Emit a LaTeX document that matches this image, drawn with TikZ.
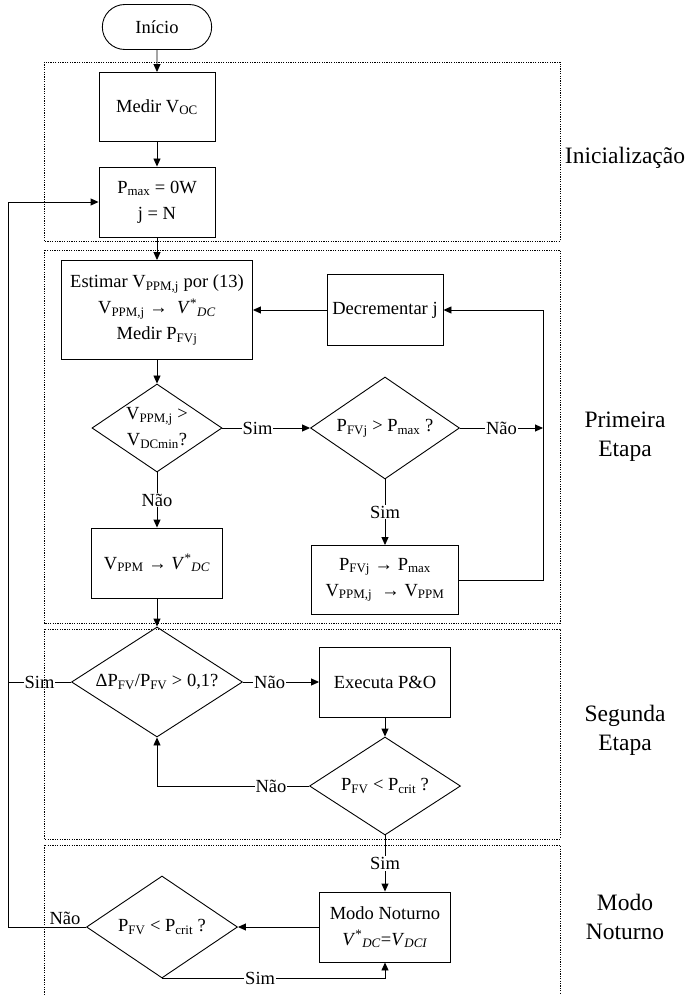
\documentclass[tikz,border=0pt]{standalone}
\usepackage{fontspec}
\setmainfont{Liberation Serif}
\usetikzlibrary{shapes.misc, shapes.geometric, arrows.meta}

\tikzset{
	bloco/.style={draw, line width=0.9pt, align=center, minimum width=131pt, minimum height=70pt},
	decisao/.style={draw, line width=0.9pt, diamond, aspect=1.5, inner sep=0pt, align=center},
	seta/.style={line width=0.9pt, -{Triangle[length=8pt,width=7pt]}},
	linha/.style={line width=0.9pt},
	rotulo/.style={fill=white, inner sep=1pt},
	etapa/.style={line width=0.8pt, dash pattern=on 1.2pt off 1.2pt},
	titulo/.style={font=\fontsize{23.5}{29}\selectfont, align=center}
}
\newcommand{\vdc}{\textit{V}\textsuperscript{*}\textsubscript{\textit{DC}}}

\begin{document}
\begin{tikzpicture}[x=1pt, y=-1pt, font=\fontsize{18.5}{26}\selectfont]
	\useasboundingbox (0,0) rectangle (686,995);

	\node[draw, line width=0.9pt, rounded rectangle, minimum width=116pt, minimum height=45pt] (inicio) at (157,27) {Início};
	\node[bloco, minimum width=116pt, minimum height=69pt] (voc) at (157,107) {Medir V\textsubscript{OC}};
	\node[bloco, minimum width=116pt] (pmax) at (157,202) {P\textsubscript{max} = 0W\\j = N};
	\node[bloco, minimum width=191pt, minimum height=99pt] (est) at (157,310) {Estimar V\textsubscript{PPM,j} por (13)\\V\textsubscript{PPM,j} → \ \vdc\\Medir P\textsubscript{FVj}};
	\node[bloco, minimum width=116pt, minimum height=71pt] (dec) at (385,310) {Decrementar j};
	\node[decisao, minimum width=130pt, minimum height=88pt] (d1) at (157,428) {V\textsubscript{PPM,j} >\\V\textsubscript{DCmin}?};
	\node[decisao, minimum width=149pt, minimum height=102pt] (d2) at (385,428) {P\textsubscript{FVj} > P\textsubscript{max} ?};
	\node[bloco, minimum width=147pt, minimum height=69pt] (upd) at (385,580) {P\textsubscript{FVj} → P\textsubscript{max}\\V\textsubscript{PPM,j} \ → V\textsubscript{PPM}};
	\node[bloco] (vref) at (157,563) {V\textsubscript{PPM} → \vdc};
	\node[decisao, minimum width=171pt, minimum height=110pt] (d3) at (157,682) {ΔP\textsubscript{FV}/P\textsubscript{FV} > 0,1?};
	\node[bloco] (exe) at (385,682) {Executa P\&O};
	\node[decisao, minimum width=151pt, minimum height=98pt] (d4) at (385,786) {P\textsubscript{FV} < P\textsubscript{crit} ?};
	\node[bloco] (noct) at (385,927) {Modo Noturno\\\vdc=\textit{V}\textsubscript{\textit{DCI}}};
	\node[decisao, minimum width=151pt, minimum height=102pt] (d5) at (162,927) {P\textsubscript{FV} < P\textsubscript{crit} ?};

	\coordinate (retorno) at (8,927);
	\coordinate (laco) at (543,580);

	\draw[seta] (inicio) -- (voc);
	\draw[seta] (voc) -- (pmax);
	\draw[seta] (pmax) -- (est);
	\draw[seta] (dec) -- (est);
	\draw[seta] (est) -- (d1);
	\draw[seta] (d1) -- node[rotulo, pos=0.4]{Sim} (d2);
	\draw[seta] (d2.east) -- node[rotulo]{Não} (d2.east -| laco);
	\draw[seta] (upd.east) -- (laco) |- (dec.east);
	\draw[seta] (d2) -- node[rotulo]{Sim} (upd);
	\draw[seta] (d1) -- node[rotulo]{Não} (vref);
	\draw[seta] (vref) -- (d3);
	\draw[seta] (d3) -- node[rotulo, pos=0.35]{Não} (exe);
	\draw[linha] (d3.west) -- node[rotulo]{Sim} (d3.west -| retorno);
	\draw[seta] (exe) -- (d4);
	\draw[seta] (d4.west) -- node[rotulo, pos=0.25]{Não} (d4.west -| d3.south) -- (d3.south);
	\draw[seta] (d4) -- node[rotulo]{Sim} (noct);
	\draw[seta] (noct) -- (d5);
	\draw[seta] (d5.west) -- node[anchor=south, pos=0.27, inner sep=2pt]{Não} (retorno) |- (pmax.west);
	\draw[seta] (d5.south) -- node[rotulo, pos=0.44]{Sim} (d5.south -| noct.south) -- (noct.south);

	% etapas
	\foreach \a/\b in {62/241, 250/623, 629/839}{
		\draw[etapa] (44,\a) rectangle (560,\b);
	}
	\draw[etapa] (44,995) -- (44,845) -- (560,845) -- (560,995);
	\foreach \y/\t in {158/Inicialização, 437/{Primeira\\Etapa}, 730/{Segunda\\Etapa}, 917/{Modo\\Noturno}}{
		\node[titulo] (t\y) at (625,\y) {\t};
	}
\end{tikzpicture}
\end{document}
